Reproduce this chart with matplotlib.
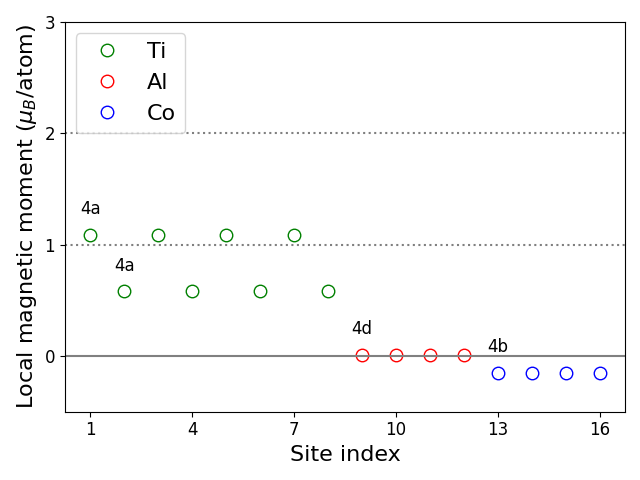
import numpy as np
import matplotlib
matplotlib.use("Agg")
import matplotlib.pyplot as plt

ti_sites = [1, 2, 3, 4, 5, 6, 7, 8]
ti_moment = [1.09, 0.58, 1.09, 0.58, 1.09, 0.58, 1.09, 0.58]
al_sites = [9, 10, 11, 12]
al_moment = [0.01, 0.01, 0.01, 0.01]
co_sites = [13, 14, 15, 16]
co_moment = [-0.15, -0.15, -0.15, -0.15]

wyckoff_labels = ["4a", "4a", "4d", "4b"]
wyckoff_sites = [1, 2, 9, 13]
wyckoff_moment = [ti_moment[0], ti_moment[1], al_moment[0], co_moment[0]]

fig, ax = plt.subplots(figsize=(6.4, 4.8))
ax.plot(ti_sites, ti_moment, 'o', mfc='none', mec='g', ms=9, label='Ti')
ax.plot(al_sites, al_moment, 'o', mfc='none', mec='r', ms=9, label='Al')
ax.plot(co_sites, co_moment, 'o', mfc='none', mec='b', ms=9, label='Co')

ax.axhline(0, color='gray', lw=1.5)
ax.axhline(1, color='gray', ls=':', lw=1.5)
ax.axhline(2, color='gray', ls=':', lw=1.5)

for lab, x, y in zip(wyckoff_labels, wyckoff_sites, wyckoff_moment):
    ax.text(x, y + 0.15, lab, ha='center', va='bottom', fontsize=12)

ax.set_ylim(-0.5, 3)
ax.set_xticks([1, 4, 7, 10, 13, 16])
ax.set_yticks([0, 1, 2, 3])
ax.tick_params(labelsize=12)
ax.set_xlabel('Site index', fontsize=16)
ax.set_ylabel(r'Local magnetic moment ($\mu_B$/atom)', fontsize=16)
ax.legend(loc='upper left', fontsize=16)
plt.tight_layout()
plt.savefig('out.png', dpi=100)
